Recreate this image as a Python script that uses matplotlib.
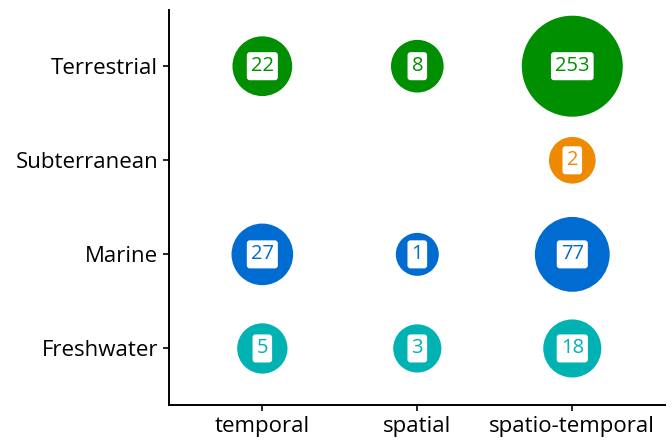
import matplotlib.pyplot as plt
import numpy as np

plt.rcParams['font.family'] = ['Open Sans', 'DejaVu Sans']

designs = ['temporal', 'spatial', 'spatio-temporal']
realms = ['Freshwater', 'Marine', 'Subterranean', 'Terrestrial']

# (realm, design, count)
studies = [
    ('Terrestrial', 'temporal', 22),
    ('Terrestrial', 'spatial', 8),
    ('Terrestrial', 'spatio-temporal', 253),
    ('Subterranean', 'spatio-temporal', 2),
    ('Marine', 'temporal', 27),
    ('Marine', 'spatial', 1),
    ('Marine', 'spatio-temporal', 77),
    ('Freshwater', 'temporal', 5),
    ('Freshwater', 'spatial', 3),
    ('Freshwater', 'spatio-temporal', 18),
]

realm_colours = {
    'Terrestrial': '#008F00',
    'Subterranean': '#EE8A00',
    'Marine': '#006CD1',
    'Freshwater': '#00B2B2',
}


def bubble_size(n, nmin, nmax, dmin=43, dmax=101):
    # area-style scale: diameter (px) grows with sqrt of rescaled value
    d = dmin + (dmax - dmin) * np.sqrt((n - nmin) / (nmax - nmin))
    return (d * 0.72) ** 2


def main():
    fig, ax = plt.subplots(figsize=(6.72, 4.43), dpi=100)
    fig.subplots_adjust(left=0.252, right=0.99, top=0.978, bottom=0.086)

    counts = [c for _, _, c in studies]
    nmin, nmax = min(counts), max(counts)

    for realm, design, n in studies:
        x = designs.index(design) + 1
        y = realms.index(realm) + 1
        col = realm_colours[realm]
        ax.scatter(x, y, s=bubble_size(n, nmin, nmax), color=col,
                   edgecolors='none', zorder=2)
        ax.text(x, y, str(n), ha='center', va='center', fontsize=14.5,
                color=col, zorder=3,
                bbox=dict(boxstyle='round,pad=0.2,rounding_size=0.15',
                          fc='white', ec='none'))

    ax.set_xlim(0.4, 3.6)
    ax.set_ylim(0.4, 4.6)
    ax.set_xticks(range(1, len(designs) + 1))
    ax.set_xticklabels(designs)
    ax.set_yticks(range(1, len(realms) + 1))
    ax.set_yticklabels(realms)

    for side in ['top', 'right']:
        ax.spines[side].set_visible(False)
    for side in ['left', 'bottom']:
        ax.spines[side].set_linewidth(1.4)
    ax.tick_params(axis='both', labelsize=16, length=4, width=1.2,
                   colors='black', pad=4)

    plt.savefig('out.png')


if __name__ == '__main__':
    main()
